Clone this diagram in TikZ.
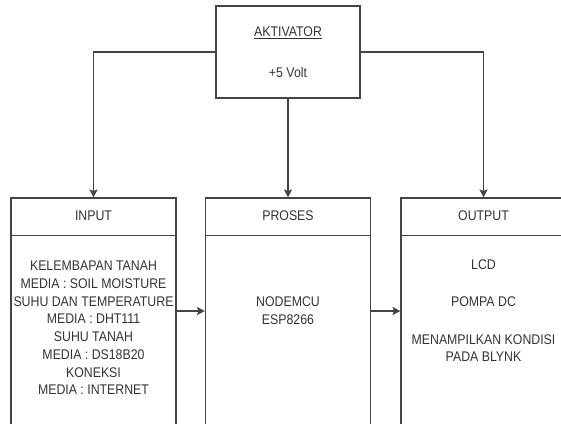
\documentclass[tikz,border=0pt]{standalone}
\usepackage{fontspec}
\setmainfont{Liberation Sans}[FakeStretch=0.88]
\usetikzlibrary{arrows.meta}
\definecolor{lineGray}{HTML}{444444}
\definecolor{textGray}{HTML}{333333}

\begin{document}
\begin{tikzpicture}
[x=1pt,y=-1pt,
  lineDecorate/.style={draw=lineGray,line width=1.1pt},
  arrowDecorate/.style={lineDecorate,-{Stealth[length=8pt,width=8pt,inset=1.5pt]}},
  boxDecorate/.style={shape=rectangle,draw=lineGray,line width=1.1pt,inner sep=0pt},
  textDecorate/.style={text=textGray,align=center,inner sep=0pt,
    font=\fontsize{14}{17.7}\selectfont}]
\useasboundingbox (0,0) rectangle (561,423);
\clip (0,0) rectangle (561,423);
%% top box
\node (akt) at (288,52) [boxDecorate,minimum width=144pt,minimum height=92pt] {};
\node (aktTitle) at (288,33) [textDecorate] {\underline{AKTIVATOR}};
\node (aktVolt) at (288,72) [textDecorate] {+5 Volt};
%% lower boxes with header
\foreach \nodename/\x/\title in {in/93.5/INPUT, pro/288/PROSES, out/483.5/OUTPUT}
{
  \node (\nodename) at (\x,320) [boxDecorate,minimum width=165pt,minimum height=244pt] {};
  \node (\nodename Title) at (\x,216) [textDecorate] {\title};
  \draw[lineDecorate] ([yshift=-38pt]\nodename.north west) -- ([yshift=-38pt]\nodename.north east);
}
%% box texts
\node (inBody) at (93.5,328) [textDecorate] {KELEMBAPAN TANAH\\ MEDIA : SOIL MOISTURE\\
  SUHU DAN TEMPERATURE\\ MEDIA : DHT111\\ SUHU TANAH\\ MEDIA : DS18B20\\
  KONEKSI\\ MEDIA : INTERNET};
\node (proBody) at (288,311) [textDecorate] {NODEMCU\\ ESP8266};
\node (outBody) at (483.5,311) [textDecorate] {LCD\\[19pt] POMPA DC\\[20pt]
  MENAMPILKAN KONDISI\\ PADA BLYNK};
%% edges
\draw[arrowDecorate] (akt.west) -| (in.north);
\draw[arrowDecorate] (akt.south) -- (pro.north);
\draw[arrowDecorate] (akt.east) -| (out.north);
\draw[arrowDecorate] (in.east |- proBody) -- (pro.west |- proBody);
\draw[arrowDecorate] (pro.east |- proBody) -- (out.west |- proBody);
\end{tikzpicture}
\end{document}
